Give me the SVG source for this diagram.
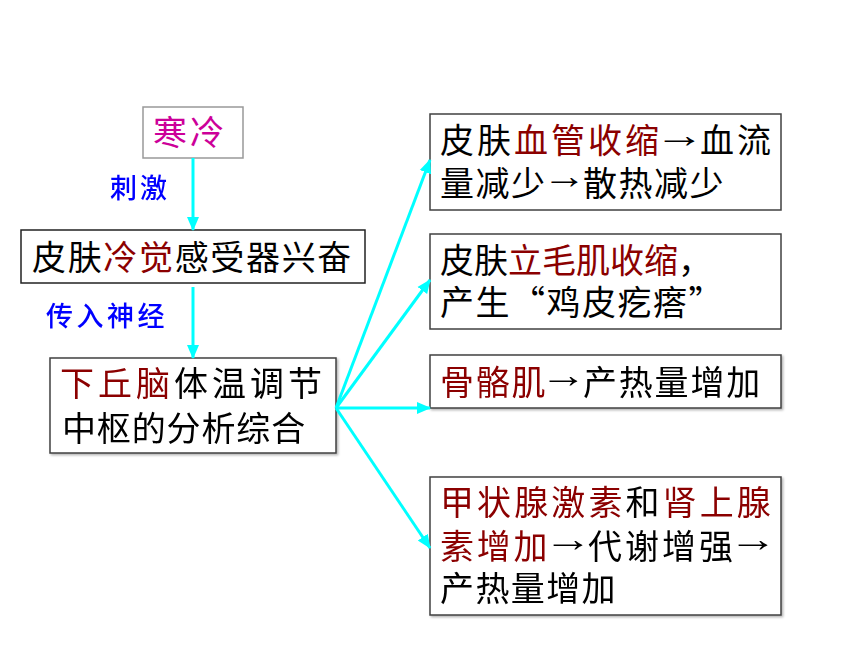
<svg xmlns="http://www.w3.org/2000/svg" width="860" height="645" viewBox="0 0 860 645">
<defs>
<marker id="ah" markerUnits="userSpaceOnUse" markerWidth="14" markerHeight="14" viewBox="0 0 14 14" refX="13" refY="7" orient="auto">
<path d="M0,1 L14,7 L0,13 Z" fill="#00FFFF"/>
</marker>
<filter id="sh" x="-5%" y="-20%" width="110%" height="140%">
<feDropShadow dx="1.5" dy="1.5" stdDeviation="1" flood-color="#000" flood-opacity="0.3"/>
</filter>
</defs>
<style>
text{font-family:"Liberation Sans","Noto Sans CJK SC","Noto Sans CJK TC",sans-serif;font-size:34px;fill:#000}
.cjk{font-family:"Noto Sans CJK SC","Noto Sans CJK TC",sans-serif}
.arr{font-weight:bold;font-size:36px}
.box{fill:#fff;stroke:#404040;stroke-width:1.5}
.red{fill:#8B0000}
.mag{fill:#CC0099}
.lbl{fill:#0000FF;font-size:27px;font-weight:500}
.con{stroke:#00FFFF;stroke-width:3;fill:none;marker-end:url(#ah)}
</style>
<rect width="860" height="645" fill="#fff"/>
<g id="cold">
<rect class="box" x="143" y="107" width="100" height="51" style="stroke:#999"/>
<text x="153" y="145" class="mag" letter-spacing="3">寒冷</text>
</g>
<g id="receptor">
<rect class="box" x="21" y="230" width="344" height="53" style="stroke:#222"/>
<text x="32" y="270" letter-spacing="1.67">皮肤</text>
<text x="103.3" y="270" class="red" letter-spacing="1.67">冷觉</text>
<text x="174.7" y="270" letter-spacing="1.67">感受器兴奋</text>
</g>
<g id="hypothalamus" filter="url(#sh)">
<rect class="box" x="50" y="358" width="286" height="95"/>
<text x="60" y="396" class="red" letter-spacing="4">下丘脑</text>
<text x="174" y="396" letter-spacing="4">体温调节</text>
<text x="62" y="441" letter-spacing="0.86">中枢的分析综合</text>
</g>
<g id="vessel">
<rect class="box" x="430" y="114" width="351" height="96"/>
<text x="440" y="153" letter-spacing="3">皮肤</text>
<text x="514" y="153" class="red" letter-spacing="3">血管收缩</text>
<text class="arr" transform="translate(654.7,146.5) scale(1.39,1)">→</text>
<text x="700" y="153" letter-spacing="3">血流</text>
<text x="440" y="196" letter-spacing="1.5">量减少</text>
<text class="arr" transform="translate(542.7,187.5) scale(1.22,1)">→</text>
<text x="583" y="196" letter-spacing="1.5">散热减少</text>
</g>
<g id="pilo">
<rect class="box" x="430" y="234" width="351" height="95"/>
<text x="440" y="273">皮肤</text>
<text x="508" y="273" class="red">立毛肌收缩</text>
<text x="678" y="273">，</text>
<text x="440" y="315" letter-spacing="1.5">产生<tspan class="cjk">“</tspan>鸡皮疙瘩<tspan class="cjk">”</tspan></text>
</g>
<g id="muscle" filter="url(#sh)">
<rect class="box" x="430" y="355" width="351" height="53"/>
<text x="440" y="395" class="red" letter-spacing="1.8">骨骼肌</text>
<text class="arr" transform="translate(540.2,386.5) scale(1.3,1)">→</text>
<text x="583" y="395" letter-spacing="1.8">产热量增加</text>
</g>
<g id="hormone" filter="url(#sh)">
<rect class="box" x="430" y="477" width="351" height="138"/>
<text x="440" y="515" class="red" letter-spacing="3.1">甲状腺激素</text>
<text x="625.5" y="515" letter-spacing="3.1">和</text>
<text x="662.6" y="515" class="red" letter-spacing="3.1">肾上腺</text>
<text x="440" y="559" class="red" letter-spacing="2.7">素增加</text>
<text class="arr" transform="translate(543.9,551) scale(1.35,1)">→</text>
<text x="588" y="559" letter-spacing="3">代谢增强</text>
<text class="arr" transform="translate(728.9,551) scale(1.35,1)">→</text>
<text x="440" y="601" letter-spacing="1.4">产热量增加</text>
</g>
<g id="labels">
<text x="110" y="198" class="lbl" letter-spacing="3">刺激</text>
<text x="46" y="326" class="lbl" letter-spacing="3.5">传入神经</text>
</g>
<g id="connectors">
<line class="con" x1="193" y1="158" x2="193" y2="230"/>
<line class="con" x1="193" y1="287" x2="193" y2="358"/>
<line class="con" x1="336" y1="408" x2="430" y2="160"/>
<line class="con" x1="336" y1="408" x2="430" y2="280"/>
<line class="con" x1="336" y1="408" x2="430" y2="408"/>
<line class="con" x1="336" y1="408" x2="430" y2="548"/>
</g>
</svg>
